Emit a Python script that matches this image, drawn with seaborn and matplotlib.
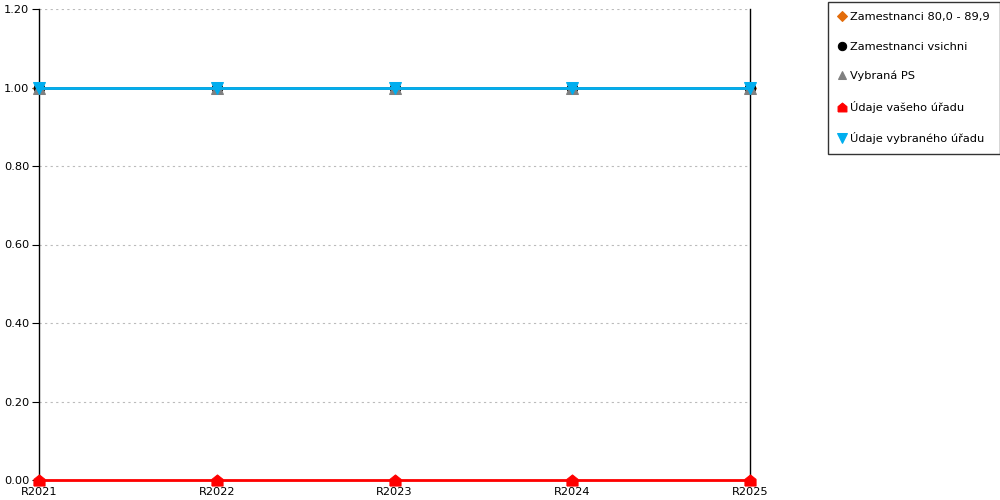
import matplotlib
matplotlib.use("Agg")
import matplotlib.pyplot as plt
import seaborn as sns
import pandas as pd
import numpy as np

categories = ["R2021", "R2022", "R2023", "R2024", "R2025"]
zam_80 = [1.0, 1.0, 1.0, 1.0, 1.0]
zam_vsichni = [1.0, 1.0, 1.0, 1.0, 1.0]
vybrana_ps = [1.0, 1.0, 1.0, 1.0, 1.0]
vaseho_uradu = [0.0, 0.0, 0.0, 0.0, 0.0]
vybraneho_uradu = [1.0, 1.0, 1.0, 1.0, 1.0]

labels = ["Zamestnanci 80,0 - 89,9", "Zamestnanci vsichni", "Vybraná PS",
          "Údaje vašeho úřadu", "Údaje vybraného úřadu"]
series = [zam_80, zam_vsichni, vybrana_ps, vaseho_uradu, vybraneho_uradu]
colors = ["#E36C0A", "#000000", "#808080", "#FF0000", "#00AEEF"]
house = [(-1, -1), (1, -1), (1, 0.2), (0, 1), (-1, 0.2), (-1, -1)]
markers = ["D", "o", "^", house, "v"]
msizes = [6, 7.5, 8, 8, 8.5]

sns.set_style("white")
plt.rcParams['font.family'] = ['DejaVu Sans']

fig = plt.figure(figsize=(10, 5), dpi=100)
ax = fig.add_axes([0.039, 0.04, 0.711, 0.942])

x = np.arange(len(categories))
for lab, vals, c, m, ms in zip(labels, series, colors, markers, msizes):
    df = pd.DataFrame({"x": x, "y": vals})
    sns.lineplot(data=df, x="x", y="y", ax=ax, color=c, marker=m, markersize=ms,
                 markeredgecolor=c, linewidth=2, label=lab, clip_on=False, zorder=3)

ax.set_xlim(0, 4)
ax.set_ylim(0, 1.2)
ax.set_xlabel("")
ax.set_ylabel("")
ax.set_xticks(x)
ax.set_xticklabels(categories, fontsize=8.2, color="black")
ax.set_xticks(x[:-1] + 0.5, minor=True)
ax.tick_params(axis="x", which="major", length=0, pad=5)
ax.tick_params(axis="x", which="minor", length=8, direction="inout", color="black", width=0.8)
ax.set_yticks(np.arange(0, 1.21, 0.2))
ax.set_yticklabels([f"{v:.2f}" for v in np.arange(0, 1.21, 0.2)], fontsize=8.2, color="black")
ax.tick_params(axis="y", which="major", length=5, direction="out", color="black", width=0.8, left=True, pad=2)
ax.grid(axis="y", color="#BBBBBB", linestyle=(0, (2, 3)), linewidth=0.8)
ax.grid(axis="x", visible=False)
for s in ["left", "right", "bottom"]:
    ax.spines[s].set_visible(True)
    ax.spines[s].set_color("black")
    ax.spines[s].set_linewidth(1)
ax.spines["top"].set_visible(False)
ax.spines["bottom"].set_color("#888888")

leg = ax.legend(loc="upper left", bbox_to_anchor=(0.828, 0.996), bbox_transform=fig.transFigure,
                frameon=True, fancybox=False, edgecolor="black", fontsize=8.2,
                labelspacing=1.7, handlelength=0.7, handletextpad=0.35, borderpad=0.9,
                borderaxespad=0, markerscale=0.8)
for h in leg.get_lines():
    h.set_linestyle("none")
for t in leg.get_texts():
    t.set_color("black")
leg.get_frame().set_linewidth(1)

fig.savefig("out.png", dpi=100)
